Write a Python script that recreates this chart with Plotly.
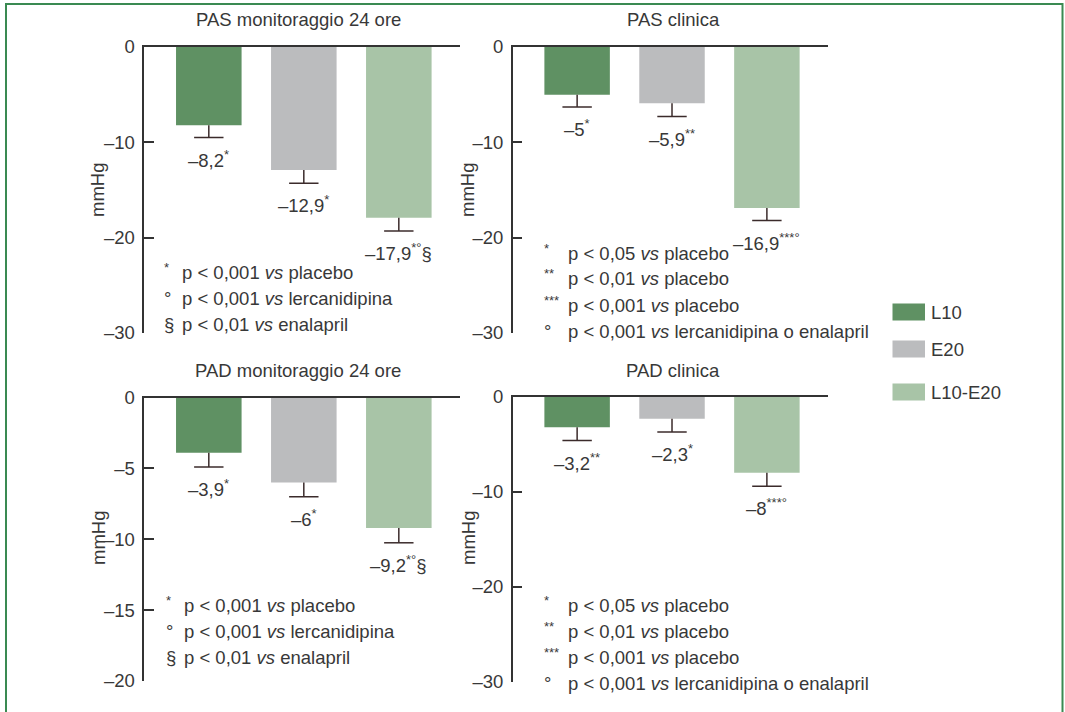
import plotly.graph_objects as go

W, H = 1065, 712
FONT = "Liberation Sans, Arial, sans-serif"
FS = 18.5
TXT = "#383838"
AX = "#333333"
ERR = "#3b2b2b"

groups = ["L10", "E20", "L10-E20"]
colors = ["#5f9163", "#bbbcbe", "#a8c4a7"]

# mean change (mmHg), error (one-sided, downward) and significance marks
pas_24h = [-8.2, -12.9, -17.9]
pas_24h_err = [1.3, 1.4, 1.4]
pas_24h_sig = ["*", "*", "*°§"]

pas_clin = [-5, -5.9, -16.9]
pas_clin_err = [1.3, 1.4, 1.3]
pas_clin_sig = ["*", "**", "***°"]

pad_24h = [-3.9, -6, -9.2]
pad_24h_err = [1.0, 1.0, 1.05]
pad_24h_sig = ["*", "*", "*°§"]

pad_clin = [-3.2, -2.3, -8]
pad_clin_err = [1.4, 1.4, 1.4]
pad_clin_sig = ["**", "*", "***°"]

titles = ["PAS monitoraggio 24 ore", "PAS clinica", "PAD monitoraggio 24 ore", "PAD clinica"]

ticks_30 = [0, -10, -20, -30]
ticks_20 = [0, -5, -10, -15, -20]

notes_24h = [("*", "p < 0,001 <i>vs</i> placebo"),
             ("°", "p < 0,001 <i>vs</i> lercanidipina"),
             ("§", "p < 0,01 <i>vs</i> enalapril")]
notes_clin = [("*", "p < 0,05 <i>vs</i> placebo"),
              ("**", "p < 0,01 <i>vs</i> placebo"),
              ("***", "p < 0,001 <i>vs</i> placebo"),
              ("°", "p < 0,001 <i>vs</i> lercanidipina o enalapril")]


def px(x):
    return x / W


def py(y):
    return 1 - y / H


def fmt(v, sig):
    num = ("–" if v < 0 else "") + f"{abs(v):g}".replace(".", ",")
    sup = sig.replace("§", "")
    tail = "§" if "§" in sig else ""
    return num + (f"<sup>{sup}</sup>" if sup else "") + tail


# panel geometry in pixels: x-axis span, y-axis span
panels = [
    dict(vals=pas_24h, err=pas_24h_err, sig=pas_24h_sig, x0=144.3, x1=460, y0=47, y1=333,
         rng=[-30, 0], ticks=ticks_30, notes=notes_24h, nx=(162, 180), ny=272, tx=298, ty=20, mx=98, my=190),
    dict(vals=pas_clin, err=pas_clin_err, sig=pas_clin_sig, x0=512.7, x1=828, y0=47, y1=333,
         rng=[-30, 0], ticks=ticks_30, notes=notes_clin, nx=(542, 566), ny=253, tx=673, ty=20, mx=468, my=190),
    dict(vals=pad_24h, err=pad_24h_err, sig=pad_24h_sig, x0=144.3, x1=460, y0=397.5, y1=681,
         rng=[-20, 0], ticks=ticks_20, notes=notes_24h, nx=(164, 182), ny=605, tx=298, ty=370, mx=98, my=538),
    dict(vals=pad_clin, err=pad_clin_err, sig=pad_clin_sig, x0=512.7, x1=828, y0=397, y1=681.5,
         rng=[-30, 0], ticks=ticks_30, notes=notes_clin, nx=(542, 566), ny=605, tx=673, ty=370, mx=468, my=538),
]

fig = go.Figure()
annotations = []
layout = {}

for i, p in enumerate(panels):
    sfx = "" if i == 0 else str(i + 1)
    xa, ya = "x" + sfx, "y" + sfx
    xs = list(range(len(groups)))
    fig.add_trace(go.Bar(
        x=xs, y=p["vals"], width=0.69, marker=dict(color=colors, line=dict(width=0)),
        error_y=dict(type="data", symmetric=False, array=[0] * 3, arrayminus=p["err"],
                     color=ERR, thickness=1.5, width=0),
        xaxis=xa, yaxis=ya, showlegend=False, hoverinfo="skip"))
    caps = [v - e for v, e in zip(p["vals"], p["err"])]
    fig.add_trace(go.Scatter(
        x=xs, y=caps, mode="markers",
        marker=dict(symbol="line-ew", size=21, color=ERR, line=dict(width=1.5, color=ERR)),
        xaxis=xa, yaxis=ya, showlegend=False, hoverinfo="skip"))

    layout["xaxis" + sfx] = dict(
        domain=[px(p["x0"]), px(p["x1"])], range=[-0.679, 2.644], anchor=ya, side="top",
        showline=True, linecolor=AX, linewidth=1.5, showticklabels=False, ticks="",
        showgrid=False, zeroline=False, fixedrange=True, automargin=False)
    layout["yaxis" + sfx] = dict(
        domain=[py(p["y1"]), py(p["y0"])], range=p["rng"], anchor=xa,
        showline=True, linecolor=AX, linewidth=1.5, ticks="inside", ticklen=10,
        tickwidth=1.5, tickcolor=AX, tickvals=p["ticks"],
        ticktext=[("–" if t < 0 else "") + str(abs(t)) for t in p["ticks"]],
        tickfont=dict(family=FONT, size=FS, color=TXT), ticklabelstandoff=4,
        showgrid=False, zeroline=False, fixedrange=True, automargin=False)

    # value labels under each error bar
    for xi, (v, e, s) in enumerate(zip(p["vals"], p["err"], p["sig"])):
        annotations.append(dict(
            x=xi, y=v - e, xref=xa, yref=ya, text=fmt(v, s), showarrow=False,
            xanchor="center", yanchor="top", yshift=-7,
            font=dict(family=FONT, size=FS, color=TXT)))

    # panel title and axis title
    annotations.append(dict(x=px(p["tx"]), y=py(p["ty"]), xref="paper", yref="paper",
                            text=titles[i], showarrow=False, xanchor="center", yanchor="middle",
                            font=dict(family=FONT, size=FS, color=TXT)))
    annotations.append(dict(x=px(p["mx"]), y=py(p["my"]), xref="paper", yref="paper",
                            text="mmHg", textangle=-90, showarrow=False,
                            xanchor="center", yanchor="middle",
                            font=dict(family=FONT, size=FS, color=TXT)))

    # footnotes
    for k, (sym, txt) in enumerate(p["notes"]):
        yy = p["ny"] + 26 * k
        small = sym.startswith("*")
        annotations.append(dict(x=px(p["nx"][0]), y=py(yy), xref="paper", yref="paper",
                                text=sym, showarrow=False, xanchor="left", yanchor="middle",
                                yshift=5 if small else 0,
                                font=dict(family=FONT, size=13 if small else FS, color=TXT)))
        annotations.append(dict(x=px(p["nx"][1]), y=py(yy), xref="paper", yref="paper",
                                text=txt, showarrow=False, xanchor="left", yanchor="middle",
                                font=dict(family=FONT, size=FS, color=TXT)))

# legend: colour swatches with group names
shapes = [dict(type="rect", xref="paper", yref="paper", x0=px(6), x1=px(1062.5),
               y0=-0.05, y1=py(4), line=dict(color="#3a8a52", width=2), fillcolor="rgba(0,0,0,0)")]
legend_y = [312, 349, 392]
for g, c, ly in zip(groups, colors, legend_y):
    shapes.append(dict(type="rect", xref="paper", yref="paper", x0=px(892.5), x1=px(925),
                       y0=py(ly + 8.5), y1=py(ly - 8.5), fillcolor=c, line=dict(width=0)))
    annotations.append(dict(x=px(929), y=py(ly), xref="paper", yref="paper", text=g,
                            showarrow=False, xanchor="left", yanchor="middle",
                            font=dict(family=FONT, size=FS, color=TXT)))

fig.update_layout(
    width=W, height=H, autosize=False, margin=dict(l=0, r=0, t=0, b=0, pad=0),
    paper_bgcolor="white", plot_bgcolor="white",
    annotations=annotations, shapes=shapes, **layout)

fig.write_html("out.html", config={"displayModeBar": False},
               post_script="document.body.style.margin='0';")
